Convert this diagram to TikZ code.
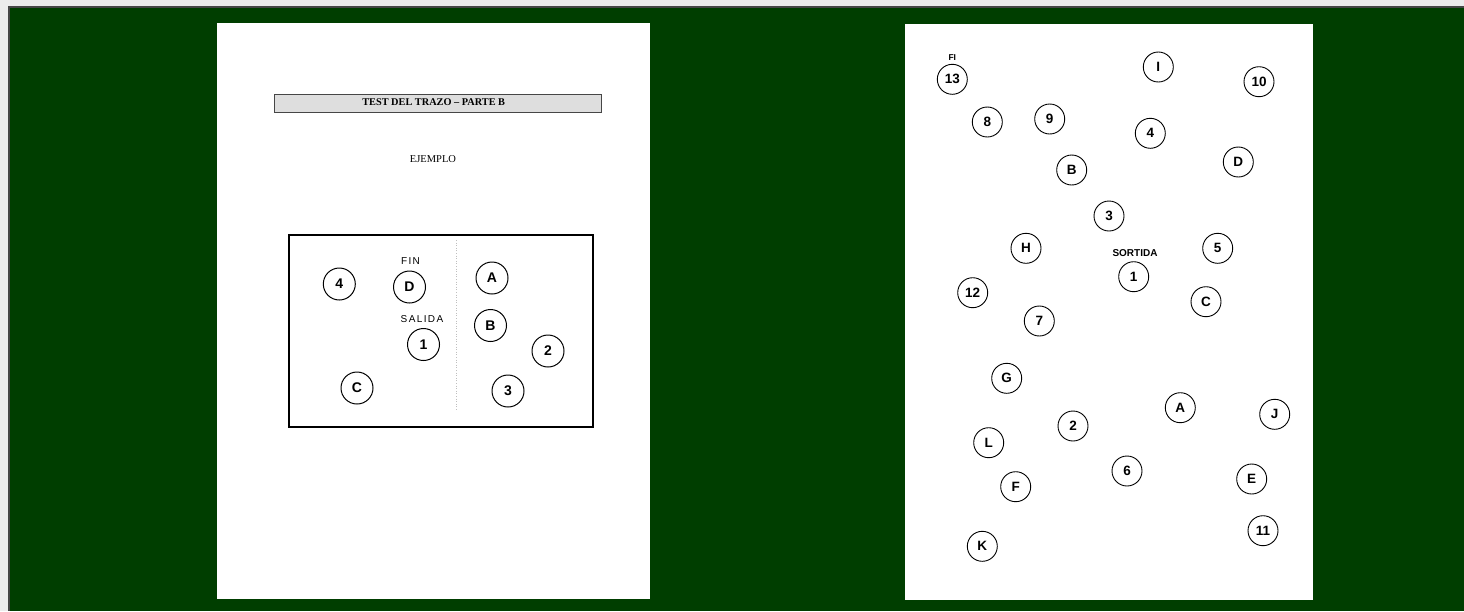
\documentclass[tikz,border=0pt]{standalone}
\usepackage{fontspec}
\setmainfont{Liberation Serif}
\setsansfont{Liberation Sans}
\definecolor{bggreen}{RGB}{0,62,0}
\definecolor{edgegray}{RGB}{70,70,70}
\definecolor{stripgray}{RGB}{236,236,236}
\definecolor{barfill}{RGB}{222,222,222}
\tikzset{
  lc/.style={draw, circle, line width=1pt, minimum size=32pt, inner sep=0pt,
    font=\sffamily\bfseries\fontsize{14}{14}\selectfont},
  rc/.style={draw, circle, line width=0.9pt, minimum size=30pt, inner sep=0pt,
    font=\sffamily\bfseries\fontsize{13.5}{13.5}\selectfont},
  page/.style={fill=white, draw=none},
  lbl/.style={inner sep=0pt, font=\sffamily\fontsize{10}{10}\selectfont\addfontfeature{LetterSpace=14}},
  rlbl/.style={inner sep=0pt, font=\sffamily\bfseries\fontsize{10}{10}\selectfont},
}
\begin{document}
\begin{tikzpicture}[x=1pt,y=-1pt]
\useasboundingbox (0,0) rectangle (1464,611);
% background and frame
\fill[stripgray] (0,0) rectangle (1464,611);
\fill[edgegray] (8,6) rectangle (1464,611);
\fill[bggreen] (10,8) rectangle (1464,611);
% pages
\fill[page] (217,23) rectangle (650,599);
\fill[page] (905,24) rectangle (1313,600);

% ---------- left page ----------
\node[draw=edgegray, fill=barfill, line width=1pt, minimum width=327pt, minimum height=17.5pt, inner sep=0pt,
  anchor=north west] (bar) at (273.5,94) {};
\node[inner sep=0pt, font=\rmfamily\bfseries\fontsize{10.3}{10.3}\selectfont] (title) at (433.7,102.5) {TEST DEL TRAZO -- PARTE B};
\node[inner sep=0pt, font=\rmfamily\fontsize{10.5}{10.5}\selectfont] (ejemplo) at (433,159) {EJEMPLO};

\draw[line width=1.8pt] (289,235) rectangle (593,427);
\draw[black!25, line width=0.6pt, dotted] (456,240) -- (456,410);

\node[lbl] (fin) at (410.5,261) {FIN};
\node[lbl] (salida) at (422,319.5) {SALIDA};

\node[lc] (l4) at (339.3,284) {4};
\node[lc] (lD) at (409.5,287) {D};
\node[lc] (lA) at (492,278) {A};
\node[lc] (lB) at (490.5,325.5) {B};
\node[lc] (l1) at (423.5,344.5) {1};
\node[lc] (l2) at (548,351) {2};
\node[lc] (lC) at (357,388) {C};
\node[lc] (l3) at (508,391) {3};

% ---------- right page ----------
\node[inner sep=0pt, font=\sffamily\bfseries\fontsize{8.5}{8.5}\selectfont] (fi) at (952.3,58) {FI};
\node[rlbl] (sortida) at (1135,252.7) {SORTIDA};

\node[rc] (r13) at (952.3,79.3) {13};
\node[rc] (rI) at (1158.3,67) {I};
\node[rc] (r10) at (1259,81.7) {10};
\node[rc] (r8) at (987.3,122) {8};
\node[rc] (r9) at (1049.7,119) {9};
\node[rc] (r4) at (1150.3,133.3) {4};
\node[rc] (rD) at (1238.3,162) {D};
\node[rc] (rB) at (1071.7,170) {B};
\node[rc] (r3) at (1109,216) {3};
\node[rc] (rH) at (1026,248.3) {H};
\node[rc] (r1) at (1133.7,276.7) {1};
\node[rc] (r5) at (1217.7,248.3) {5};
\node[rc] (r12) at (972.7,292.7) {12};
\node[rc] (rC) at (1206,301.7) {C};
\node[rc] (r7) at (1039.3,321) {7};
\node[rc] (rG) at (1006.7,378.3) {G};
\node[rc] (rA) at (1180.3,407.7) {A};
\node[rc] (rJ) at (1274.7,414.3) {J};
\node[rc] (r2) at (1073,426) {2};
\node[rc] (rL) at (988.7,442.7) {L};
\node[rc] (r6) at (1127,471) {6};
\node[rc] (rE) at (1251.7,479) {E};
\node[rc] (rF) at (1015.7,486.7) {F};
\node[rc] (r11) at (1263,530.7) {11};
\node[rc] (rK) at (982.3,546.3) {K};
\end{tikzpicture}
\end{document}
